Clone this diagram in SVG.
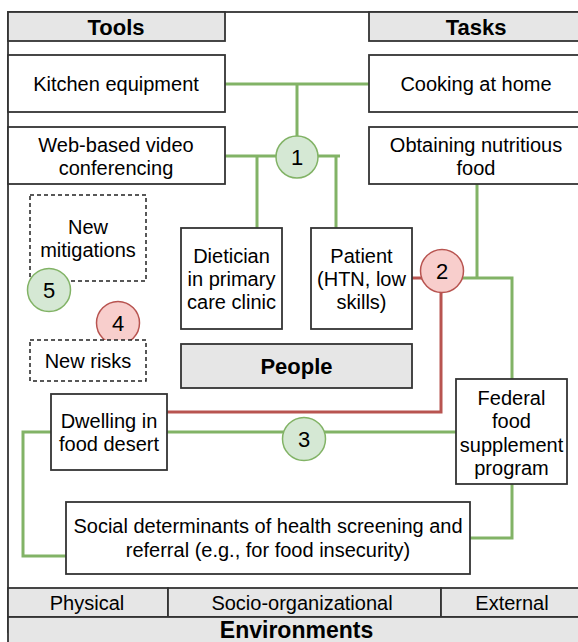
<svg xmlns="http://www.w3.org/2000/svg" width="578" height="642" viewBox="0 0 578 642">
<style>
text{font-family:"Liberation Sans",Arial,sans-serif;font-size:20px;fill:#000;text-anchor:middle;dominant-baseline:central}
.hdr{font-weight:bold;font-size:22px}
.env{font-weight:bold;font-size:23px;dominant-baseline:alphabetic}
.box{fill:#fff;stroke:#333;stroke-width:1.8}
.gray{fill:#e6e6e6;stroke:#333;stroke-width:1.8}
.dash{fill:#fff;stroke:#222;stroke-width:1.5;stroke-dasharray:4 3}
.g{fill:none;stroke:#82b366;stroke-width:3}
.r{fill:none;stroke:#b85450;stroke-width:3}
.cg{fill:#d5e8d4;stroke:#82b366;stroke-width:1.5}
.cr{fill:#f8cecc;stroke:#b85450;stroke-width:1.5}
.num{font-size:22px}
</style>
<rect width="578" height="642" fill="#fff"/>
<g id="frame">
<rect x="8" y="12" width="580" height="620" fill="none" stroke="#333" stroke-width="1.8"/>
</g>
<g id="tools-header"><rect class="gray" x="8" y="12" width="217" height="29"/><text class="hdr" x="116" y="27">Tools</text></g>
<g id="tasks-header"><rect class="gray" x="369" y="12" width="215" height="29"/><text class="hdr" x="476" y="27">Tasks</text></g>
<g id="connectors">
<path class="g" d="M225 84H369M297 84V138"/>
<path class="g" d="M225 156H340M257 156V228M336 156V228"/>
<path class="g" d="M477 184V278M421 278H512V379"/>
<path class="r" d="M412 278H440M441 292V412H167"/>
<path class="g" d="M167 432H456"/>
<path class="g" d="M51 432H23V556H66"/>
<path class="g" d="M512 484V538H470"/>
</g>
<g id="kitchen"><rect class="box" x="8" y="55" width="217" height="57"/><text x="116" y="84">Kitchen equipment</text></g>
<g id="cooking"><rect class="box" x="369" y="55" width="215" height="57"/><text x="476" y="84">Cooking at home</text></g>
<g id="web"><rect class="box" x="8" y="127" width="217" height="57"/><text x="116" y="145">Web-based video</text><text x="116" y="168">conferencing</text></g>
<g id="obtaining"><rect class="box" x="369" y="127" width="215" height="57"/><text x="476" y="145">Obtaining nutritious</text><text x="476" y="168">food</text></g>
<g id="c1"><circle class="cg" cx="297" cy="157" r="21"/><text class="num" x="297" y="157">1</text></g>
<g id="dietician"><rect class="box" x="181" y="228" width="101" height="101"/><text x="231.5" y="256">Dietician</text><text x="231.5" y="279">in primary</text><text x="231.5" y="302">care clinic</text></g>
<g id="patient"><rect class="box" x="311" y="228" width="101" height="101"/><text x="361.5" y="256">Patient</text><text x="361.5" y="279">(HTN, low</text><text x="361.5" y="302">skills)</text></g>
<g id="c2"><circle class="cr" cx="442" cy="271" r="21.5"/><text class="num" x="442" y="271">2</text></g>
<g id="people"><rect class="gray" x="181" y="344" width="231" height="44"/><text class="hdr" x="296.5" y="366">People</text></g>
<g id="mitigations"><rect class="dash" x="30" y="195" width="116" height="86"/><text x="88" y="227">New</text><text x="88" y="250">mitigations</text></g>
<g id="c5"><circle class="cg" cx="49" cy="290" r="21.5"/><text class="num" x="49" y="290">5</text></g>
<g id="c4"><circle class="cr" cx="118" cy="323" r="21.5"/><text class="num" x="118" y="323">4</text></g>
<g id="risks"><rect class="dash" x="30" y="340" width="116" height="41"/><text x="88" y="361">New risks</text></g>
<g id="dwelling"><rect class="box" x="51" y="394" width="116" height="76"/><text x="109" y="421">Dwelling in</text><text x="109" y="444">food desert</text></g>
<g id="c3"><circle class="cg" cx="304" cy="439" r="21.5"/><text class="num" x="304" y="439">3</text></g>
<g id="federal"><rect class="box" x="456" y="379" width="111" height="105"/><text x="511.5" y="398">Federal</text><text x="511.5" y="421">food</text><text x="511.5" y="445">supplement</text><text x="511.5" y="468">program</text></g>
<g id="social"><rect class="box" x="66" y="502" width="404" height="72"/><text x="268" y="526">Social determinants of health screening and</text><text x="268" y="550">referral (e.g., for food insecurity)</text></g>
<g id="environments">
<rect class="gray" x="8" y="588" width="160" height="29"/><text x="87" y="603">Physical</text>
<rect class="gray" x="168" y="588" width="273" height="29"/><text x="302" y="603">Socio-organizational</text>
<rect class="gray" x="441" y="588" width="143" height="29"/><text x="512" y="603">External</text>
<rect class="gray" x="8" y="617" width="576" height="40"/><text class="env" x="296.5" y="638">Environments</text>
</g>
</svg>
